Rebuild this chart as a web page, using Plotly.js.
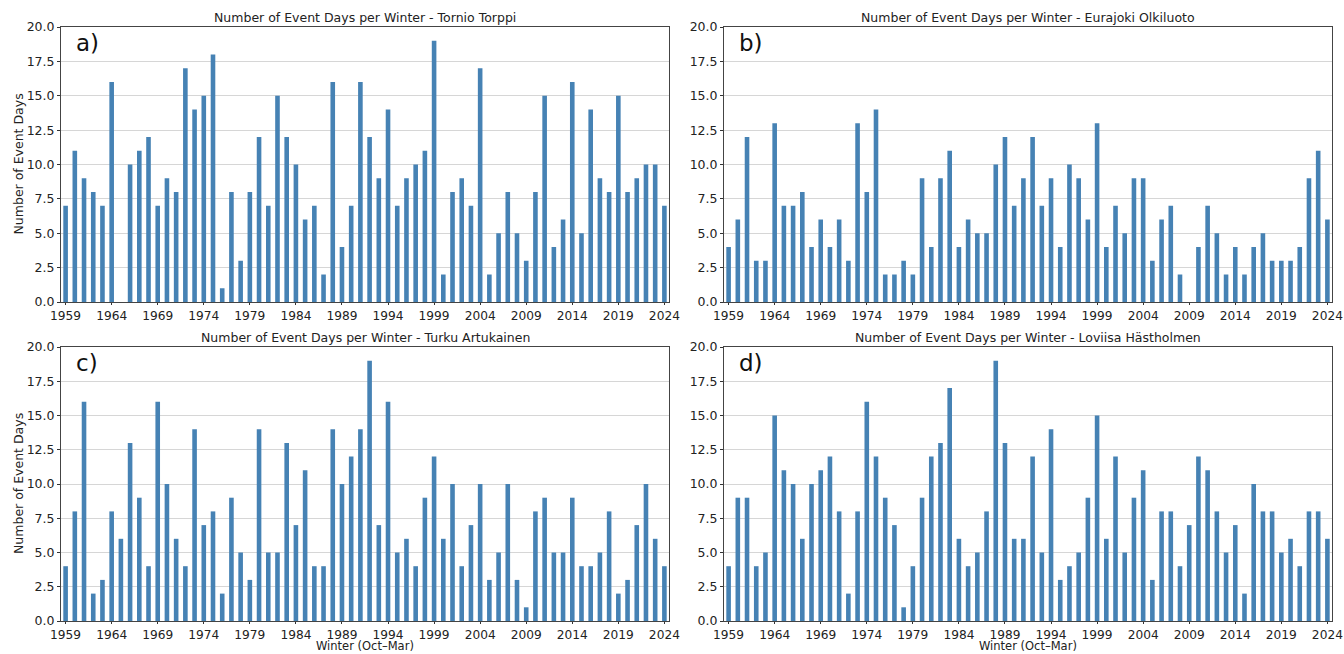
<!DOCTYPE html>
<html>
<head>
<meta charset="utf-8">
<script src="https://cdn.plot.ly/plotly-3.0.1.min.js"></script>
<style>html,body{margin:0;padding:0;background:#fff;}#chart{width:1344px;height:654px;}</style>
</head>
<body>
<div id="chart"></div>
<script>
// Winters (year of winter start), 1959..2024
const years = [1959,1960,1961,1962,1963,1964,1965,1966,1967,1968,1969,1970,1971,1972,1973,1974,1975,1976,1977,1978,1979,1980,1981,1982,1983,1984,1985,1986,1987,1988,1989,1990,1991,1992,1993,1994,1995,1996,1997,1998,1999,2000,2001,2002,2003,2004,2005,2006,2007,2008,2009,2010,2011,2012,2013,2014,2015,2016,2017,2018,2019,2020,2021,2022,2023,2024];

const tornioTorppi = [7,11,9,8,7,16,0,10,11,12,7,9,8,17,14,15,18,1,8,3,8,12,7,15,12,10,6,7,2,16,4,7,16,12,9,14,7,9,10,11,19,2,8,9,7,17,2,5,8,5,3,8,15,4,6,16,5,14,9,8,15,8,9,10,10,7];
const eurajokiOlkiluoto = [4,6,12,3,3,13,7,7,8,4,6,4,6,3,13,8,14,2,2,3,2,9,4,9,11,4,6,5,5,10,12,7,9,12,7,9,4,10,9,6,13,4,7,5,9,9,3,6,7,2,0,4,7,5,2,4,2,4,5,3,3,3,4,9,11,6];
const turkuArtukainen = [4,8,16,2,3,8,6,13,9,4,16,10,6,4,14,7,8,2,9,5,3,14,5,5,13,7,11,4,4,14,10,12,14,19,7,16,5,6,4,9,12,6,10,4,7,10,3,5,10,3,1,8,9,5,5,9,4,4,5,8,2,3,7,10,6,4];
const loviisaHastholmen = [4,9,9,4,5,15,11,10,6,10,11,12,8,2,8,16,12,9,7,1,4,9,12,13,17,6,4,5,8,19,13,6,6,12,5,14,3,4,5,9,15,6,12,5,9,11,3,8,8,4,7,12,11,8,5,7,2,10,8,8,5,6,4,8,8,6];

const stations = ["Tornio Torppi","Eurajoki Olkiluoto","Turku Artukainen","Loviisa Hästholmen"];
const panelLabels = ["a)","b)","c)","d)"];
const seriesList = [tornioTorppi, eurajokiOlkiluoto, turkuArtukainen, loviisaHastholmen];
const tickYears = [1959,1964,1969,1974,1979,1984,1989,1994,1999,2004,2009,2014,2019,2024];
const titlePrefix = "Number of Event Days per Winter - ";
const yTitle = "Number of Event Days";
const xTitle = "Winter (Oct–Mar)";

const W = 1344, H = 654;
const FONT = "DejaVu Sans, sans-serif";
const px = v => v / W;
const py = v => 1 - v / H;

const xDomains = [[px(61), px(669)], [px(724), px(1332)], [px(61), px(669)], [px(724), px(1332)]];
const yDomains = [[py(302), py(27)], [py(302), py(27)], [py(621), py(347)], [py(621), py(347)]];
const titleY = [17.5, 17.5, 337.5, 337.5];

const traces = [];
const layout = {
  width: W, height: H,
  margin: {l: 0, r: 0, t: 0, b: 0},
  paper_bgcolor: "#fff", plot_bgcolor: "#fff",
  showlegend: false,
  bargap: 0.5,
  font: {family: FONT, color: "#222", size: 12},
  annotations: []
};

for (let i = 0; i < 4; i++) {
  const n = i + 1;
  const xa = n === 1 ? "x" : "x" + n;
  const ya = n === 1 ? "y" : "y" + n;
  traces.push({
    type: "bar", x: years, y: seriesList[i], xaxis: xa, yaxis: ya,
    marker: {color: "#4682b4", line: {width: 0}}, hoverinfo: "x+y"
  });
  const xKey = n === 1 ? "xaxis" : "xaxis" + n;
  const yKey = n === 1 ? "yaxis" : "yaxis" + n;
  layout[xKey] = {
    domain: xDomains[i], anchor: ya, range: [1958.5, 2024.5],
    tickmode: "array", tickvals: tickYears, ticktext: tickYears.map(String),
    ticks: "outside", ticklen: 2, tickwidth: 1, tickcolor: "#333",
    showline: true, linecolor: "#444", linewidth: 1, mirror: true,
    showgrid: false, zeroline: false,
    tickfont: {family: FONT, size: 12.2, color: "#222"},
    title: {text: ""}
  };
  layout[yKey] = {
    domain: yDomains[i], anchor: xa, range: [0, 20],
    tickmode: "linear", tick0: 0, dtick: 2.5, tickformat: ".1f",
    ticks: "outside", ticklen: 3, tickwidth: 1, tickcolor: "#333",
    showline: true, linecolor: "#444", linewidth: 1, mirror: true,
    showgrid: true, gridcolor: "#d6d6d6", gridwidth: 1, zeroline: false,
    tickfont: {family: FONT, size: 12.5, color: "#222"},
    title: {text: ""}
  };
  const cx = (xDomains[i][0] + xDomains[i][1]) / 2;
  layout.annotations.push({
    text: titlePrefix + stations[i], xref: "paper", yref: "paper",
    x: cx, y: py(titleY[i]),
    xanchor: "center", yanchor: "middle", showarrow: false,
    font: {family: FONT, size: 12.5, color: "#222"}
  });
  layout.annotations.push({
    text: panelLabels[i], xref: xa + " domain", yref: ya + " domain",
    x: 0.022, y: 0.995, xanchor: "left", yanchor: "top", showarrow: false,
    font: {family: FONT, size: 23, color: "#111"}
  });
  if (i % 2 === 0) {
    const cy = (yDomains[i][0] + yDomains[i][1]) / 2;
    layout.annotations.push({
      text: yTitle, xref: "paper", yref: "paper",
      x: px(18), y: cy, xanchor: "center", yanchor: "middle",
      textangle: -90, showarrow: false,
      font: {family: FONT, size: 12.5, color: "#222"}
    });
  }
  if (i >= 2) {
    layout.annotations.push({
      text: xTitle, xref: "paper", yref: "paper",
      x: cx, y: 0, xanchor: "center", yanchor: "bottom",
      showarrow: false, borderpad: 0,
      font: {family: FONT, size: 11.5, color: "#222"}
    });
  }
}

Plotly.newPlot("chart", traces, layout, {staticPlot: true, displayModeBar: false});
</script>
</body>
</html>
